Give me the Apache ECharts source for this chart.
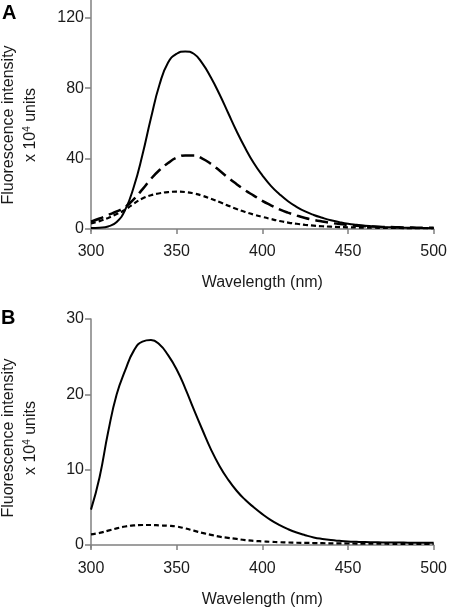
<!DOCTYPE html>
<html>
<head>
<meta charset="utf-8">
<script src="https://cdn.jsdelivr.net/npm/echarts@6/dist/echarts.min.js"></script>
<style>html,body{margin:0;padding:0;background:#fff}#c{width:450px;height:609px}</style>
</head>
<body>
<div id="c"></div>
<script>
const wavelengths = [300,305,310,315,320,325,330,335,340,345,350,355,360,365,370,375,380,385,390,395,400,405,410,415,420,425,430,435,440,445,450,455,460,465,470,475,480,485,490,495,500];
const xTicks = [300,350,400,450,500];
const yTicksA = [0,40,80,120];
const yTicksB = [0,10,20,30];
// Panel A
const aSolid = [0.6,0.8,1.5,4,11,24,42,63,82,94.5,99.5,100.8,99.5,94,86,76.5,66,55.5,46,37.5,30.5,24.5,19.8,15.8,12.6,10,8,6.4,5,3.9,3,2.4,1.9,1.5,1.2,1,0.85,0.75,0.65,0.55,0.5];
const aLongDash = [4.2,6,8,10,12.5,17,22.5,28.5,33.5,37.5,40.5,41.8,41.8,40,37,33.2,29.2,25.5,22,19,16,13.5,11.2,9.3,7.7,6.3,5.2,4.3,3.5,2.8,2.3,1.9,1.6,1.4,1.2,1.1,1,0.9,0.8,0.75,0.7];
const aShortDash = [3.2,4.5,6.3,8.5,11,14.5,17.3,19.2,20.3,21,21.2,21,20.2,18.9,17.2,15.3,13.3,11.4,9.7,8.2,6.9,5.7,4.6,3.7,3,2.4,1.95,1.6,1.35,1.15,1,0.9,0.8,0.75,0.7,0.65,0.6,0.58,0.55,0.52,0.5];
// Panel B
const bSolid = [4.7,9,15,20,23.2,25.8,27,27.2,26.6,25.2,23.3,20.8,18,15.3,12.7,10.5,8.7,7.2,6,5,4.1,3.3,2.65,2.1,1.65,1.3,1,0.8,0.65,0.55,0.47,0.42,0.38,0.36,0.34,0.33,0.32,0.31,0.3,0.3,0.3];
const bShortDash = [1.4,1.6,1.9,2.2,2.45,2.6,2.65,2.65,2.6,2.55,2.45,2.2,1.9,1.6,1.35,1.1,0.95,0.8,0.65,0.55,0.48,0.42,0.37,0.33,0.3,0.28,0.26,0.24,0.22,0.21,0.2,0.19,0.18,0.17,0.17,0.16,0.16,0.15,0.15,0.15,0.15];

const FONT = '"Liberation Sans", Arial, sans-serif';
const AX = '#808080';
const TXT = '#1a1a1a';
const FS = 16;
function pairs(v){ return wavelengths.map((w,i)=>[w,v[i]]); }
function xAxis(gi){
  return {type:'value', gridIndex:gi, min:300, max:500, interval:50,
    name:'Wavelength (nm)', nameLocation:'middle', nameGap:44,
    nameTextStyle:{fontFamily:FONT, fontSize:FS, color:TXT},
    axisLine:{lineStyle:{color:AX, width:1.5}},
    axisTick:{inside:false, length:5, lineStyle:{color:AX, width:1.5}},
    axisLabel:{fontFamily:FONT, fontSize:FS, color:TXT, margin:13, customValues:xTicks},
    splitLine:{show:false}};
}
function yAxis(gi, min, max, ticks){
  return {type:'value', gridIndex:gi, min:min, max:max,
    axisLine:{show:true, lineStyle:{color:AX, width:1.5}},
    axisTick:{show:true, length:6, lineStyle:{color:AX, width:1.5}, customValues:ticks},
    axisLabel:{fontFamily:FONT, fontSize:FS, color:TXT, margin:7, customValues:ticks},
    splitLine:{show:false}};
}
function line(gi, data, type, width){
  return {type:'line', xAxisIndex:gi, yAxisIndex:gi, data:pairs(data), smooth:0.5,
    showSymbol:false, symbol:'none', lineStyle:{color:'#000', width:width, type:type}};
}
const chart = echarts.init(document.getElementById('c'), null, {renderer:'canvas'});
const yName = (cy)=>[
  {type:'text', x:9, y:cy, rotation:Math.PI/2, style:{text:'Fluorescence intensity', font:FS + 'px ' + FONT, fill:TXT, textAlign:'center', textVerticalAlign:'middle'}},
  {type:'text', x:31, y:cy, rotation:Math.PI/2, style:{text:'x 10{s|4} units', rich:{s:{fontSize:10, fontFamily:FONT, fill:TXT, verticalAlign:'top', padding:[0,0,7,0]}}, font:FS + 'px ' + FONT, fill:TXT, textAlign:'center', textVerticalAlign:'middle'}}
];
chart.setOption({
  animation:false,
  backgroundColor:'#fff',
  grid:[{left:91, top:0, width:345, height:231}, {left:91, top:319, width:345, height:229}],
  xAxis:[xAxis(0), xAxis(1)],
  yAxis:[yAxis(0,-1.1,130,yTicksA), yAxis(1,-0.4,30,yTicksB)],
  series:[
    line(0, aSolid, 'solid', 2),
    line(0, aLongDash, [13,6], 2.5),
    line(0, aShortDash, [5,3], 2.2),
    line(1, bSolid, 'solid', 2),
    line(1, bShortDash, [5,3], 2.2)
  ],
  graphic:[
    {type:'text', left:2, top:3, style:{text:'A', font:'bold 20px ' + FONT, fill:'#000'}},
    {type:'text', left:1, top:308, style:{text:'B', font:'bold 20px ' + FONT, fill:'#000'}},
    ...yName(125), ...yName(438)
  ]
});
</script>
</body>
</html>
